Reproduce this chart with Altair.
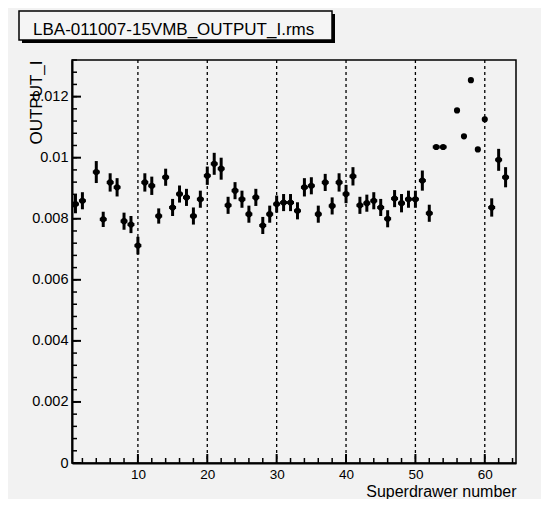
import altair as alt
import pandas as pd

# ---- data ----
title_text = "LBA-011007-15VMB_OUTPUT_I.rms"
x_title = "Superdrawer number"
y_title = "OUTPUT_I"

drawer = [1, 2, 4, 5, 6, 7, 8, 9, 10, 11, 12, 13, 14, 15, 16, 17, 18, 19, 20,
          21, 22, 23, 24, 25, 26, 27, 28, 29, 30, 31, 32, 33, 34, 35, 36, 37,
          38, 39, 40, 41, 42, 43, 44, 45, 46, 47, 48, 49, 50, 51, 52, 53, 54,
          56, 57, 58, 59, 60, 61, 62, 63]
output_rms = [0.00848, 0.00859, 0.00953, 0.00798, 0.00919, 0.00903, 0.00792,
              0.00781, 0.00712, 0.00919, 0.00908, 0.00809, 0.00936, 0.00837,
              0.00881, 0.00870, 0.00809, 0.00864, 0.00941, 0.00980, 0.00964,
              0.00844, 0.00892, 0.00864, 0.00815, 0.00870, 0.00778, 0.00815,
              0.00848, 0.00853, 0.00853, 0.00826, 0.00903, 0.00908, 0.00815,
              0.00919, 0.00842, 0.00919, 0.00881, 0.00939, 0.00844, 0.00851,
              0.00859, 0.00837, 0.00800, 0.00866, 0.00851, 0.00864, 0.00864,
              0.00925, 0.00818, 0.01035, 0.01035, 0.01155, 0.01070, 0.01254,
              0.01027, 0.01126, 0.00837, 0.00993, 0.00936]
y_err = [0.00030, 0.00028, 0.00036, 0.00025, 0.00030, 0.00030, 0.00028,
         0.00028, 0.00029, 0.00030, 0.00030, 0.00025, 0.00028, 0.00028,
         0.00028, 0.00028, 0.00028, 0.00028, 0.00030, 0.00036, 0.00036,
         0.00028, 0.00028, 0.00028, 0.00028, 0.00028, 0.00028, 0.00028,
         0.00028, 0.00028, 0.00028, 0.00028, 0.00030, 0.00028, 0.00028,
         0.00028, 0.00028, 0.00030, 0.00030, 0.00030, 0.00028, 0.00028,
         0.00028, 0.00028, 0.00028, 0.00028, 0.00030, 0.00028, 0.00028,
         0.00033, 0.00028, 0.00004, 0.00004, 0.00005, 0.00005, 0.00005,
         0.00005, 0.00008, 0.00030, 0.00036, 0.00033]
x_err = [0.5] * 53 + [0.25] * 5 + [0.5] * 3

x_major = [10, 20, 30, 40, 50, 60]
x_minor = [2, 4, 6, 8, 12, 14, 16, 18, 22, 24, 26, 28, 32, 34, 36, 38,
           42, 44, 46, 48, 52, 54, 56, 58, 62, 64]
y_major = [0, 0.002, 0.004, 0.006, 0.008, 0.01, 0.012]
y_minor = [round(i * 0.0004, 4) for i in range(34)]

df = pd.DataFrame({"x": drawer, "y": output_rms, "ye": y_err, "xe": x_err})
df["ylo"] = df["y"] - df["ye"]
df["yhi"] = df["y"] + df["ye"]
df["xlo"] = df["x"] - df["xe"]
df["xhi"] = df["x"] + df["xe"]

FONT = "Liberation Sans"
W, H = 444, 403
BG = "#f2f2f2"

xs = alt.Scale(domain=[0.5, 64.5], nice=False, zero=False)
ys = alt.Scale(domain=[0, 0.0132], nice=False, zero=False)

x_axis = alt.Axis(values=x_major, format="d", title=x_title, grid=False,
                  ticks=False, tickSize=0, labelPadding=4, labelFont=FONT,
                  labelFontSize=13.5, labelColor="black", domainColor="black",
                  domainWidth=2, titleFont=FONT, titleFontSize=16,
                  titleFontWeight="normal", titleColor="black", titleX=W,
                  titleY=33, titleAlign="right", titleBaseline="alphabetic",
                  titleAngle=0)
y_axis = alt.Axis(values=y_major, format="~g", title=y_title, grid=False,
                  ticks=False, tickSize=0, labelPadding=4, labelFont=FONT,
                  labelFontSize=14.5, labelColor="black", domainColor="black",
                  domainWidth=2, titleFont=FONT, titleFontSize=17,
                  titleFontWeight="normal", titleColor="black", titleX=-36,
                  titleY=0, titleAngle=270, titleAlign="right",
                  titleBaseline="middle")


def X(field):
    return alt.X(field, type="quantitative", scale=xs, axis=x_axis)


def Y(field):
    return alt.Y(field, type="quantitative", scale=ys, axis=y_axis)


base = alt.Chart(df)

grid = alt.Chart(pd.DataFrame({"x": x_major})).mark_rule(
    color="black", strokeWidth=1.3, strokeDash=[3, 3]
).encode(x=X("x"))

hbars = base.mark_rule(color="black", strokeWidth=3).encode(
    x=X("xlo"), x2="xhi", y=Y("y"))
vbars = base.mark_rule(color="black", strokeWidth=3).encode(
    x=X("x"), y=Y("ylo"), y2="yhi")
points = base.mark_point(filled=True, shape="circle", size=38, color="black",
                         opacity=1).encode(x=X("x"), y=Y("y"))

ymaj = alt.Chart(pd.DataFrame({"y": y_major})).mark_rule(
    color="black", strokeWidth=2).encode(
    y=Y("y"), x=alt.value(0), x2=alt.value(9))
ymin = alt.Chart(pd.DataFrame({"y": y_minor})).mark_rule(
    color="black", strokeWidth=1.5).encode(
    y=Y("y"), x=alt.value(0), x2=alt.value(5))
xmaj = alt.Chart(pd.DataFrame({"x": x_major})).mark_rule(
    color="black", strokeWidth=2).encode(
    x=X("x"), y=alt.value(H), y2=alt.value(H - 9))
xmin = alt.Chart(pd.DataFrame({"x": x_minor})).mark_rule(
    color="black", strokeWidth=1.5).encode(
    x=X("x"), y=alt.value(H), y2=alt.value(H - 5))

tdf = pd.DataFrame({"t": [title_text]})
shadow = alt.Chart(tdf).mark_rect(color="black").encode(
    x=alt.value(-50), x2=alt.value(263), y=alt.value(-46), y2=alt.value(-17))
box = alt.Chart(tdf).mark_rect(fill="#f5f5f5", stroke="black",
                               strokeWidth=1.5).encode(
    x=alt.value(-53), x2=alt.value(260), y=alt.value(-49), y2=alt.value(-20))
ttext = alt.Chart(tdf).mark_text(
    font=FONT, fontSize=17, align="left", baseline="alphabetic",
    color="black").encode(x=alt.value(-39), y=alt.value(-25), text="t:N")

chart = alt.layer(
    grid, ymin, ymaj, xmin, xmaj, hbars, vbars, points, shadow, box, ttext
).properties(
    width=W, height=H,
    autosize=alt.AutoSizeParams(type="none"),
    padding={"left": 64, "top": 52, "right": 25, "bottom": 36},
    background=BG,
).configure_view(stroke="black", strokeWidth=1.5, fill=BG)

chart.save("out.html", embed_options={"renderer": "svg", "actions": False})
